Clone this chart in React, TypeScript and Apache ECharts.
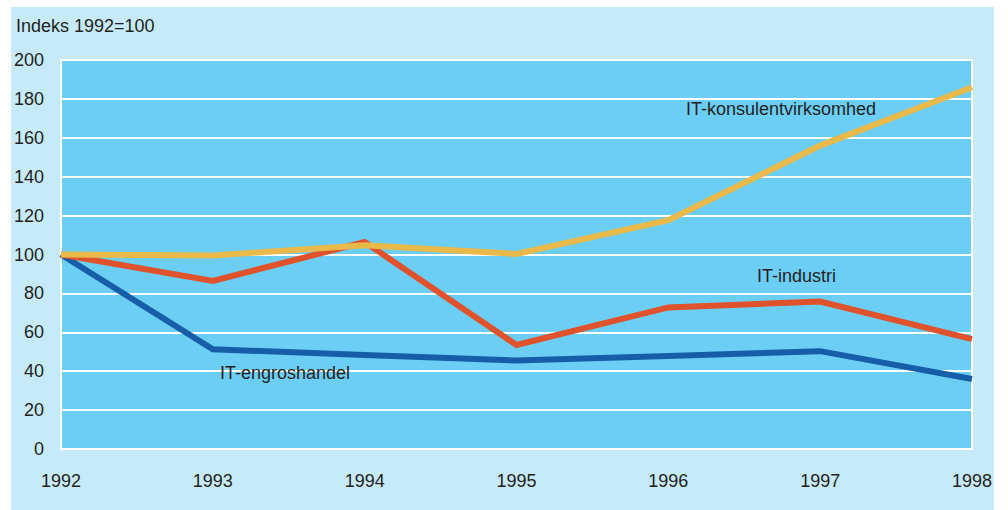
import React, { useEffect, useRef } from "react";
import * as echarts from "echarts";

const years = ["1992", "1993", "1994", "1995", "1996", "1997", "1998"];
const engros = [100, 51.3, 48.3, 45.5, 47.8, 50.3, 36];
const industri = [100, 86.4, 106.4, 53.5, 72.8, 75.8, 56.5];
const konsulent = [100, 99.5, 104.7, 100.3, 117.7, 156, 186];
const yTicks = [0, 20, 40, 60, 80, 100, 120, 140, 160, 180, 200];

const FONT = "'Liberation Sans', Arial, sans-serif";
const TXT = "#231f20";
const FS = 18;

export default function App() {
  const ref = useRef<HTMLDivElement>(null);
  useEffect(() => {
    if (!ref.current) return;
    const chart = echarts.init(ref.current, undefined, { renderer: "svg" });
    const lineSeries = (name: string, data: number[], color: string) => ({
      name,
      type: "line",
      data,
      symbol: "none",
      lineStyle: { color, width: 6, cap: "butt", join: "miter" },
      itemStyle: { color },
    });
    chart.setOption({
      animation: false,
      backgroundColor: "#ffffff",
      textStyle: { fontFamily: FONT },
      graphic: [
        {
          type: "rect",
          z: -10,
          silent: true,
          shape: { x: 11, y: 7, width: 983, height: 503 },
          style: { fill: "#c7eaf9" },
        },
        {
          type: "text",
          left: 16,
          top: 17,
          style: { text: "Indeks 1992=100", fontSize: FS, fill: TXT, fontFamily: FONT },
        },
        {
          type: "text",
          left: 686,
          top: 100,
          z: 100,
          style: { text: "IT-konsulentvirksomhed", fontSize: FS, fill: TXT, fontFamily: FONT },
        },
        {
          type: "text",
          left: 757,
          top: 267,
          z: 100,
          style: { text: "IT-industri", fontSize: FS, fill: TXT, fontFamily: FONT },
        },
        {
          type: "text",
          left: 220,
          top: 364,
          z: 100,
          style: { text: "IT-engroshandel", fontSize: FS, fill: TXT, fontFamily: FONT },
        },
      ],
      grid: {
        left: 61,
        right: 36,
        top: 60,
        bottom: 61,
        show: true,
        backgroundColor: "#6ccef5",
        borderColor: "#ffffff",
        borderWidth: 2,
      },
      xAxis: {
        type: "category",
        data: years,
        boundaryGap: false,
        axisLine: { show: false },
        axisTick: { show: false },
        splitLine: { show: false },
        axisLabel: { color: TXT, fontSize: FS, margin: 23, fontFamily: FONT },
      },
      yAxis: {
        type: "value",
        min: yTicks[0],
        max: yTicks[yTicks.length - 1],
        interval: 20,
        axisLine: { show: false },
        axisTick: { show: false },
        splitLine: { show: true, lineStyle: { color: "#ffffff", width: 2 } },
        axisLabel: { color: TXT, fontSize: FS, margin: 17, fontFamily: FONT },
      },
      series: [
        lineSeries("IT-engroshandel", engros, "#165ea7"),
        lineSeries("IT-industri", industri, "#e0522b"),
        lineSeries("IT-konsulentvirksomhed", konsulent, "#e9b949"),
      ],
    });
    return () => chart.dispose();
  }, []);
  return (
    <div
      ref={ref}
      style={{ position: "fixed", left: 0, top: 0, width: 1008, height: 510 }}
    />
  );
}
